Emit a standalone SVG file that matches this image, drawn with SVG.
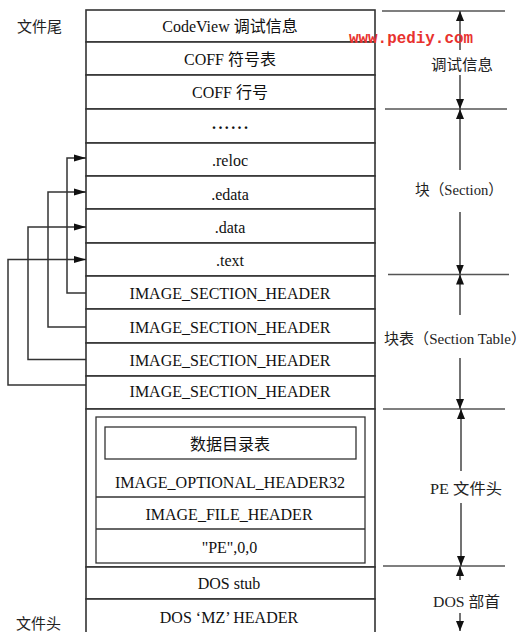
<svg xmlns="http://www.w3.org/2000/svg" width="526" height="632" viewBox="0 0 526 632">
<defs>
<style>
.box{fill:#fff;stroke:#333;stroke-width:1.6}
.ibox{fill:none;stroke:#333;stroke-width:1.3}
.t{font-family:"Liberation Serif","Noto Sans CJK SC",serif;font-size:16px;fill:#111;text-anchor:middle}
.cn{font-family:"Noto Sans CJK SC",sans-serif;font-size:15px;fill:#222}
.lbl{font-family:"Liberation Serif","Noto Sans CJK SC",serif;font-size:15px;fill:#222}
.conn{fill:none;stroke:#333;stroke-width:1.5}
.dim{stroke:#444;stroke-width:1.5;fill:none}
.sep{stroke:#555;stroke-width:1.4}
.wm{font-family:"Liberation Mono",monospace;font-size:16px;font-weight:bold;fill:#e8322e}
</style>
<marker id="ah" markerUnits="userSpaceOnUse" markerWidth="12" markerHeight="8" refX="12" refY="4" orient="auto">
<path d="M0,0.5 L12,4 L0,7.5 z" fill="#111"/>
</marker>
<marker id="dh" markerUnits="userSpaceOnUse" markerWidth="10" markerHeight="8" refX="10" refY="4" orient="auto">
<path d="M0,0 L10,4 L0,8 z" fill="#111"/>
</marker>
</defs>
<rect width="526" height="632" fill="#fff"/>

<g id="codeview"><rect class="box" x="86" y="10" width="289" height="32"/><text class="t" x="230" y="32">CodeView 调试信息</text></g>
<g id="coff-symbols"><rect class="box" x="86" y="42" width="289" height="33"/><text class="t" x="230" y="64.5">COFF 符号表</text></g>
<g id="coff-lines"><rect class="box" x="86" y="75" width="289" height="34"/><text class="t" x="230" y="98">COFF 行号</text></g>
<g id="ellipsis"><rect class="box" x="86" y="109" width="289" height="34"/><text class="t" x="230" y="129" font-weight="bold" font-size="19" textLength="36" lengthAdjust="spacing">......</text></g>
<g id="reloc"><rect class="box" x="86" y="143" width="289" height="33"/><text class="t" x="230" y="166">.reloc</text></g>
<g id="edata"><rect class="box" x="86" y="176" width="289" height="33"/><text class="t" x="230" y="199.5">.edata</text></g>
<g id="data"><rect class="box" x="86" y="209" width="289" height="34"/><text class="t" x="230" y="232.5">.data</text></g>
<g id="text"><rect class="box" x="86" y="243" width="289" height="33"/><text class="t" x="230" y="266">.text</text></g>
<g id="ish1"><rect class="box" x="86" y="276" width="289" height="33"/><text class="t" x="230" y="298.5">IMAGE_SECTION_HEADER</text></g>
<g id="ish2"><rect class="box" x="86" y="309" width="289" height="34"/><text class="t" x="230" y="332.5">IMAGE_SECTION_HEADER</text></g>
<g id="ish3"><rect class="box" x="86" y="343" width="289" height="33"/><text class="t" x="230" y="366">IMAGE_SECTION_HEADER</text></g>
<g id="ish4"><rect class="box" x="86" y="376" width="289" height="33"/><text class="t" x="230" y="397">IMAGE_SECTION_HEADER</text></g>
<g id="pe-header">
<rect class="box" x="86" y="409" width="289" height="158"/>
<rect class="ibox" x="96" y="417" width="269" height="146"/>
<line class="ibox" x1="96" y1="497" x2="365" y2="497"/>
<line class="ibox" x1="96" y1="529" x2="365" y2="529"/>
</g>
<g id="data-directory"><rect class="ibox" x="105" y="427" width="251" height="32"/><text class="t" x="230" y="450" font-size="15">数据目录表</text></g>
<g id="optional-header"><text class="t" x="230" y="488" textLength="230" lengthAdjust="spacingAndGlyphs">IMAGE_OPTIONAL_HEADER32</text></g>
<g id="file-header"><text class="t" x="229" y="519.5">IMAGE_FILE_HEADER</text></g>
<g id="pe-sig"><text class="t" x="229.5" y="553">"PE",0,0</text></g>
<g id="dos-stub"><rect class="box" x="86" y="567" width="289" height="32"/><text class="t" x="229" y="589">DOS stub</text></g>
<g id="dos-mz"><rect class="box" x="86" y="599" width="289" height="45"/><text class="t" x="229" y="623">DOS ‘MZ’ HEADER</text></g>

<g id="side-labels">
<text class="cn" x="17" y="32">文件尾</text>
<text class="cn" x="16" y="629">文件头</text>
</g>

<g id="connectors">
<polyline class="conn" points="86,293 67,293 67,158 86,158" marker-end="url(#ah)"/>
<polyline class="conn" points="86,327 48,327 48,192 86,192" marker-end="url(#ah)"/>
<polyline class="conn" points="86,359.5 28,359.5 28,227 86,227" marker-end="url(#ah)"/>
<polyline class="conn" points="86,385 8,385 8,259.5 86,259.5" marker-end="url(#ah)"/>
</g>

<g id="dimensions">
<line class="sep" x1="382" y1="11" x2="505" y2="11"/>
<line class="sep" x1="385" y1="109" x2="507" y2="109"/>
<line class="sep" x1="388" y1="274.5" x2="509" y2="274.5"/>
<line class="sep" x1="383" y1="409" x2="505" y2="409"/>
<line class="sep" x1="383" y1="566" x2="505" y2="566"/>

<line class="dim" x1="460" y1="50" x2="460" y2="11" marker-end="url(#dh)"/>
<line class="dim" x1="460" y1="75" x2="460" y2="109" marker-end="url(#dh)"/>
<line class="dim" x1="460" y1="170" x2="460" y2="109" marker-end="url(#dh)"/>
<line class="dim" x1="460" y1="212" x2="460" y2="274.5" marker-end="url(#dh)"/>
<line class="dim" x1="460" y1="315" x2="460" y2="274.5" marker-end="url(#dh)"/>
<line class="dim" x1="460" y1="358" x2="460" y2="409" marker-end="url(#dh)"/>
<line class="dim" x1="461" y1="471" x2="461" y2="409" marker-end="url(#dh)"/>
<line class="dim" x1="461" y1="503" x2="461" y2="566" marker-end="url(#dh)"/>
<line class="dim" x1="460" y1="580" x2="460" y2="566" marker-end="url(#dh)"/>
<line class="dim" x1="460" y1="613" x2="460" y2="631" marker-end="url(#dh)"/>

<text class="lbl" x="431" y="70" textLength="62" lengthAdjust="spacingAndGlyphs">调试信息</text>
<text class="lbl" x="415" y="195" textLength="88" lengthAdjust="spacingAndGlyphs">块（Section）</text>
<text class="lbl" x="384" y="344" textLength="142" lengthAdjust="spacingAndGlyphs">块表（Section Table）</text>
<text class="lbl" x="430" y="494" textLength="72" lengthAdjust="spacingAndGlyphs">PE 文件头</text>
<text class="lbl" x="433" y="607" textLength="67" lengthAdjust="spacingAndGlyphs">DOS 部首</text>
</g>

<text class="wm" x="349" y="43" textLength="124" lengthAdjust="spacingAndGlyphs">www.pediy.com</text>
</svg>
